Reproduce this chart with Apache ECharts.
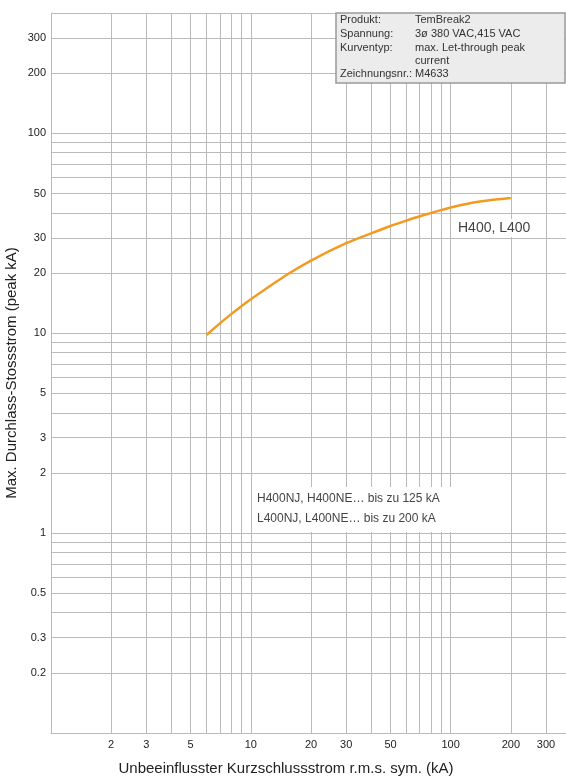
<!DOCTYPE html>
<html>
<head>
<meta charset="utf-8">
<script src="https://cdn.jsdelivr.net/npm/echarts@6/dist/echarts.min.js"></script>
<style>
html,body{margin:0;padding:0;background:#fff;}
#chart{width:566px;height:776px;}
</style>
</head>
<body>
<div id="chart"></div>
<script>
// Curve H400, L400 (x: prospective current kA r.m.s., y: peak let-through kA)
const curveX = [6, 7, 8, 9, 10, 15, 20, 30, 40, 50, 60, 70, 80, 100, 140, 200];
const curveY = [9.8, 11.2, 12.5, 13.7, 14.8, 19.5, 23.1, 28.2, 31.6, 34.4, 36.6, 38.5, 40.0, 42.6, 45.6, 47.5];

// Grid lines and tick labels
const xGridValues = [2,3,4,5,6,7,8,9,10,20,30,40,50,60,70,80,90,100,200,300,400];
const xLabelValues = [2,3,5,10,20,30,50,100,200,300];
const yGridValues = [0.2,0.3,0.4,0.5,0.6,0.7,0.8,0.9,1,2,3,4,5,6,7,8,9,10,20,30,40,50,60,70,80,90,100,200,300,400];
const yLabelValues = [0.2,0.3,0.5,1,2,3,5,10,20,30,50,100,200,300];

const infoRows = [
  ['Produkt:', 'TemBreak2'],
  ['Spannung:', '3ø 380 VAC,415 VAC'],
  ['Kurventyp:', 'max. Let-through peak'],
  ['', 'current'],
  ['Zeichnungsnr.:', 'M4633']
];
const noteLines = ['H400NJ, H400NE… bis zu 125 kA', 'L400NJ, L400NE… bis zu 200 kA'];
const curveName = 'H400, L400';

const FONT = '"Liberation Sans", Arial, sans-serif';
const fmt = v => String(parseFloat(Number(v).toPrecision(6)));

const chart = echarts.init(document.getElementById('chart'), null, {renderer: 'canvas'});

const graphic = [];
graphic.push({type:'rect', z:10, shape:{x:336, y:13, width:229, height:70},
  style:{fill:'#ececec', stroke:'#999', lineWidth:1.5}});
const rowY = [20, 34, 47.5, 61, 74];
infoRows.forEach((r, i) => {
  if (r[0]) graphic.push({type:'text', z:11, x:340, y:rowY[i],
    style:{text:r[0], font:'11px ' + FONT, fill:'#333', verticalAlign:'middle'}});
  graphic.push({type:'text', z:11, x:415, y:rowY[i],
    style:{text:r[1], font:'11px ' + FONT, fill:'#333', verticalAlign:'middle'}});
});
graphic.push({type:'rect', z:10, shape:{x:252, y:487, width:224, height:45}, style:{fill:'#fff'}});
noteLines.forEach((t, i) => {
  graphic.push({type:'text', z:11, x:257, y:499 + i*20,
    style:{text:t, font:'12px ' + FONT, fill:'#444', verticalAlign:'middle'}});
});
graphic.push({type:'rect', z:10, shape:{x:455, y:219, width:78, height:18}, style:{fill:'#fff'}});
graphic.push({type:'text', z:11, x:458, y:228,
  style:{text:curveName, font:'14px ' + FONT, fill:'#444', verticalAlign:'middle'}});

chart.setOption({
  animation: false,
  backgroundColor: '#fff',
  grid: {left: 51, top: 13, width: 520, height: 720, containLabel: false, outerBoundsMode: 'none'},
  xAxis: {
    type: 'log', logBase: 10, min: 1, max: 400,
    name: 'Unbeeinflusster Kurzschlussstrom r.m.s. sym. (kA)',
    nameLocation: 'middle', nameGap: 28, nameMoveOverlap: false,
    nameTextStyle: {fontFamily: FONT, fontSize: 15, color: '#222', padding: [0, 50, 0, 0]},
    axisLine: {show: true, lineStyle: {color: '#bbb', width: 1}},
    axisTick: {show: false, customValues: xGridValues},
    axisLabel: {customValues: xLabelValues, formatter: fmt, margin: 6,
      fontFamily: FONT, fontSize: 11, color: '#222'},
    splitLine: {show: true, lineStyle: {color: '#bbb', width: 1}},
    minorTick: {show: false}, minorSplitLine: {show: false}
  },
  yAxis: {
    type: 'log', logBase: 10, min: 0.1, max: 400,
    name: 'Max. Durchlass-Stossstrom (peak kA)',
    nameLocation: 'middle', nameGap: 32, nameRotate: 90, nameMoveOverlap: false,
    nameTextStyle: {fontFamily: FONT, fontSize: 15, color: '#222'},
    axisLine: {show: true, lineStyle: {color: '#bbb', width: 1}},
    axisTick: {show: false, customValues: yGridValues},
    axisLabel: {customValues: yLabelValues, formatter: fmt, margin: 5,
      fontFamily: FONT, fontSize: 11, color: '#222'},
    splitLine: {show: true, lineStyle: {color: '#bbb', width: 1}},
    minorTick: {show: false}, minorSplitLine: {show: false}
  },
  series: [{
    type: 'line', name: curveName,
    data: curveX.map((x, i) => [x, curveY[i]]),
    smooth: 0.2, showSymbol: false, symbol: 'none',
    lineStyle: {color: '#f39a22', width: 2.5}
  }],
  graphic: graphic
});
</script>
</body>
</html>
